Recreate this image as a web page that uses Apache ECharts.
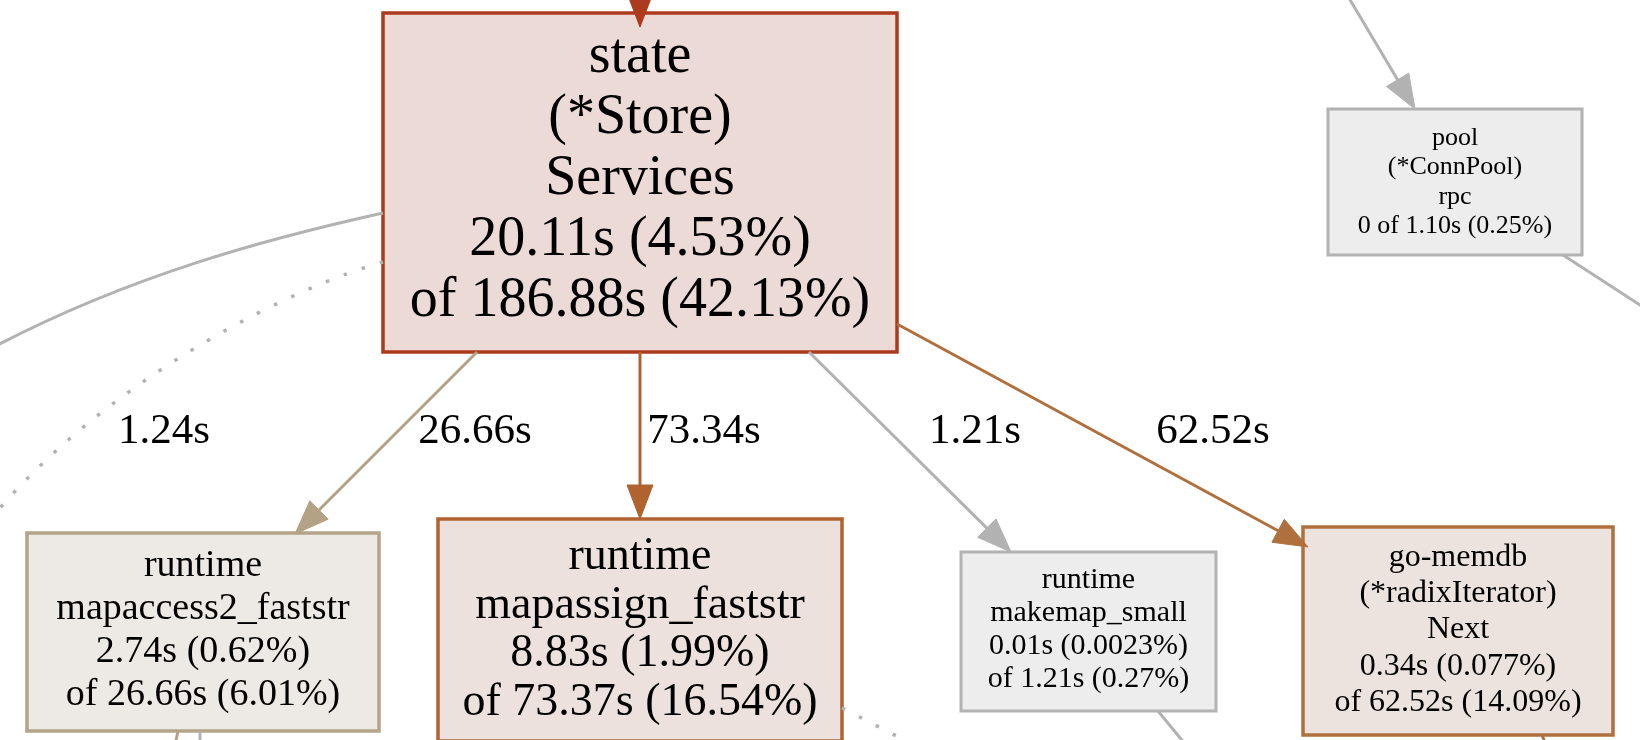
<!DOCTYPE html>
<html>
<head>
<meta charset="utf-8">
<script src="https://cdn.jsdelivr.net/npm/echarts@6/dist/echarts.min.js"></script>
<style>
  html, body { margin: 0; padding: 0; background: #fff; }
  #main { width: 1640px; height: 740px; }
</style>
</head>
<body>
<div id="main"></div>
<script>
// pprof call graph, cropped around state.(*Store).Services

const nodeIds = ['state', 'mapaccess', 'mapassign', 'makemap', 'gomemdb', 'pool'];
const nodeNames = [
  ['state', '(*Store)', 'Services'],
  ['runtime', 'mapaccess2_faststr'],
  ['runtime', 'mapassign_faststr'],
  ['runtime', 'makemap_small'],
  ['go-memdb', '(*radixIterator)', 'Next'],
  ['pool', '(*ConnPool)', 'rpc']
];
const flatTimes = ['20.11s', '2.74s', '8.83s', '0.01s', '0.34s', '0'];
const flatPcts  = ['4.53%', '0.62%', '1.99%', '0.0023%', '0.077%', ''];
const cumTimes  = ['186.88s', '26.66s', '73.37s', '1.21s', '62.52s', '1.10s'];
const cumPcts   = ['42.13%', '6.01%', '16.54%', '0.27%', '14.09%', '0.25%'];

// 'out' = a node that lies outside the crop
const edgeFrom   = ['out', 'state', 'state', 'state', 'state', 'state', 'state', 'out', 'pool', 'mapaccess', 'mapaccess', 'makemap', 'gomemdb', 'mapassign'];
const edgeTo     = ['state', 'out', 'out', 'mapaccess', 'mapassign', 'makemap', 'gomemdb', 'pool', 'out', 'out', 'out', 'out', 'out', 'out'];
const edgeValues = ['', '', '1.24s', '26.66s', '73.34s', '1.21s', '62.52s', '', '', '', '', '', '', ''];

// ---- layout (pixel space of the graphviz drawing) ----
const nodeBoxes = {
  state:     [383, 13, 897, 352],
  mapaccess: [27, 533, 379, 731],
  mapassign: [438, 519, 842, 741],
  makemap:   [961, 552, 1216, 711],
  gomemdb:   [1303, 527, 1613, 735],
  pool:      [1328, 109, 1582, 255]
};
const nodeLook = {
  state:     { fill: '#ecdad6', stroke: '#ad3a1d', lw: 3.5, size: 56, lh: 61,   dy: -3.5 },
  mapaccess: { fill: '#edeae5', stroke: '#b4a488', lw: 3.5, size: 38, lh: 43,   dy: -1.5 },
  mapassign: { fill: '#ece1dc', stroke: '#b0622f', lw: 3.5, size: 46, lh: 48.5, dy: 0 },
  makemap:   { fill: '#ededed', stroke: '#b2b2b2', lw: 3,   size: 30, lh: 33,   dy: -2 },
  gomemdb:   { fill: '#ece3de', stroke: '#b0703e', lw: 3.5, size: 32, lh: 36.3, dy: -1 },
  pool:      { fill: '#ededed', stroke: '#b2b2b2', lw: 3,   size: 26, lh: 29.5, dy: 0 }
};
// 2 points = straight, 4 points = cubic bezier
const edgePaths = [
  [[640, -60], [640, 27]],
  [[383, 213], [270, 238], [130, 275], [-10, 349]],
  [[383, 262], [300, 285], [120, 370], [0, 508]],
  [[477, 352], [295, 534]],
  [[640, 352], [640, 519]],
  [[809, 352], [1011, 552]],
  [[897, 324], [1308, 547]],
  [[1343, -12], [1415, 109]],
  [[1563, 255], [1660, 318]],
  [[178, 731], [174, 750]],
  [[200, 731], [200, 750]],
  [[1158, 711], [1190, 750]],
  [[1542, 735], [1548, 750]],
  [[842, 708], [912, 744]]
];
const GRAY = '#b2b2b2', TAN = '#b3a285', BROWN = '#b0622f', BROWN2 = '#b0703e', RED = '#ad3a1d';
const edgeLook = [
  { color: RED,    arrow: true },
  { color: GRAY,   arrow: false },
  { color: GRAY,   arrow: false, dotted: true, label: [164, 432] },
  { color: TAN,    arrow: true,  label: [475, 432] },
  { color: BROWN,  arrow: true,  label: [704, 432] },
  { color: GRAY,   arrow: true,  label: [975, 432] },
  { color: BROWN2, arrow: true,  label: [1213, 432] },
  { color: GRAY,   arrow: true },
  { color: GRAY,   arrow: false },
  { color: TAN,    arrow: false },
  { color: GRAY,   arrow: false },
  { color: GRAY,   arrow: false },
  { color: BROWN2, arrow: false },
  { color: GRAY,   arrow: false, dotted: true }
];
const FONT = '"Liberation Serif", "Times New Roman", serif';

function nodeLabel(i) {
  const lines = nodeNames[i].slice();
  if (flatPcts[i] === '') {
    lines.push(flatTimes[i] + ' of ' + cumTimes[i] + ' (' + cumPcts[i] + ')');
  } else {
    lines.push(flatTimes[i] + ' (' + flatPcts[i] + ')');
    lines.push('of ' + cumTimes[i] + ' (' + cumPcts[i] + ')');
  }
  return lines.join('\n');
}

function renderNode(params, api) {
  const i = api.value(0);
  const id = nodeIds[i];
  const b = nodeBoxes[id], look = nodeLook[id];
  const p0 = api.coord([b[0], b[1]]), p1 = api.coord([b[2], b[3]]);
  return {
    type: 'group',
    children: [
      {
        type: 'rect',
        shape: { x: p0[0], y: p0[1], width: p1[0] - p0[0], height: p1[1] - p0[1] },
        style: { fill: look.fill, stroke: look.stroke, lineWidth: look.lw }
      },
      {
        type: 'text',
        style: {
          text: nodeLabel(i),
          x: (p0[0] + p1[0]) / 2,
          y: (p0[1] + p1[1]) / 2 + look.dy,
          align: 'center',
          verticalAlign: 'middle',
          font: look.size + 'px ' + FONT,
          lineHeight: look.lh,
          fill: '#000'
        }
      }
    ]
  };
}

function renderEdge(params, api) {
  const i = api.value(0);
  const look = edgeLook[i];
  const pts = edgePaths[i].map(p => api.coord(p));
  const children = [];
  const n = pts.length;
  let end = pts[n - 1];
  if (look.arrow) {
    const tip = pts[n - 1], prev = pts[n - 2];
    const dx = tip[0] - prev[0], dy = tip[1] - prev[1];
    const len = Math.sqrt(dx * dx + dy * dy);
    const ux = dx / len, uy = dy / len;
    const L = 34, W = 13;
    const base = [tip[0] - ux * L, tip[1] - uy * L];
    end = base;
    children.push({
      type: 'polygon',
      z2: 2,
      shape: { points: [tip, [base[0] - uy * W, base[1] + ux * W], [base[0] + uy * W, base[1] - ux * W]] },
      style: { fill: look.color, stroke: look.color, lineWidth: 1 }
    });
  }
  const lineStyle = look.dotted
    ? { stroke: look.color, lineWidth: 3.5, fill: null, lineDash: [3.5, 15.5] }
    : { stroke: look.color, lineWidth: 3, fill: null };
  if (n === 2) {
    children.push({ type: 'line', shape: { x1: pts[0][0], y1: pts[0][1], x2: end[0], y2: end[1] }, style: lineStyle });
  } else {
    children.push({
      type: 'bezierCurve',
      shape: { x1: pts[0][0], y1: pts[0][1], cpx1: pts[1][0], cpy1: pts[1][1], cpx2: pts[2][0], cpy2: pts[2][1], x2: end[0], y2: end[1] },
      style: lineStyle
    });
  }
  if (look.label && edgeValues[i]) {
    const lp = api.coord(look.label);
    children.push({
      type: 'text',
      style: { text: edgeValues[i], x: lp[0], y: lp[1], align: 'center', verticalAlign: 'middle', font: '43px ' + FONT, fill: '#000' }
    });
  }
  return { type: 'group', children };
}

const chart = echarts.init(document.getElementById('main'), null, { renderer: 'canvas' });
chart.setOption({
  backgroundColor: '#ffffff',
  animation: false,
  grid: { left: 0, right: 0, top: 0, bottom: 0 },
  xAxis: { type: 'value', min: 0, max: 1640, show: false },
  yAxis: { type: 'value', min: 0, max: 740, inverse: true, show: false },
  series: [
    {
      type: 'custom',
      name: 'nodes',
      silent: true,
      z: 2,
      renderItem: renderNode,
      data: nodeIds.map((id, i) => [i, 0])
    },
    {
      type: 'custom',
      name: 'edges',
      silent: true,
      z: 3,
      renderItem: renderEdge,
      data: edgeFrom.map((f, i) => [i, 0])
    }
  ]
});
</script>
</body>
</html>
